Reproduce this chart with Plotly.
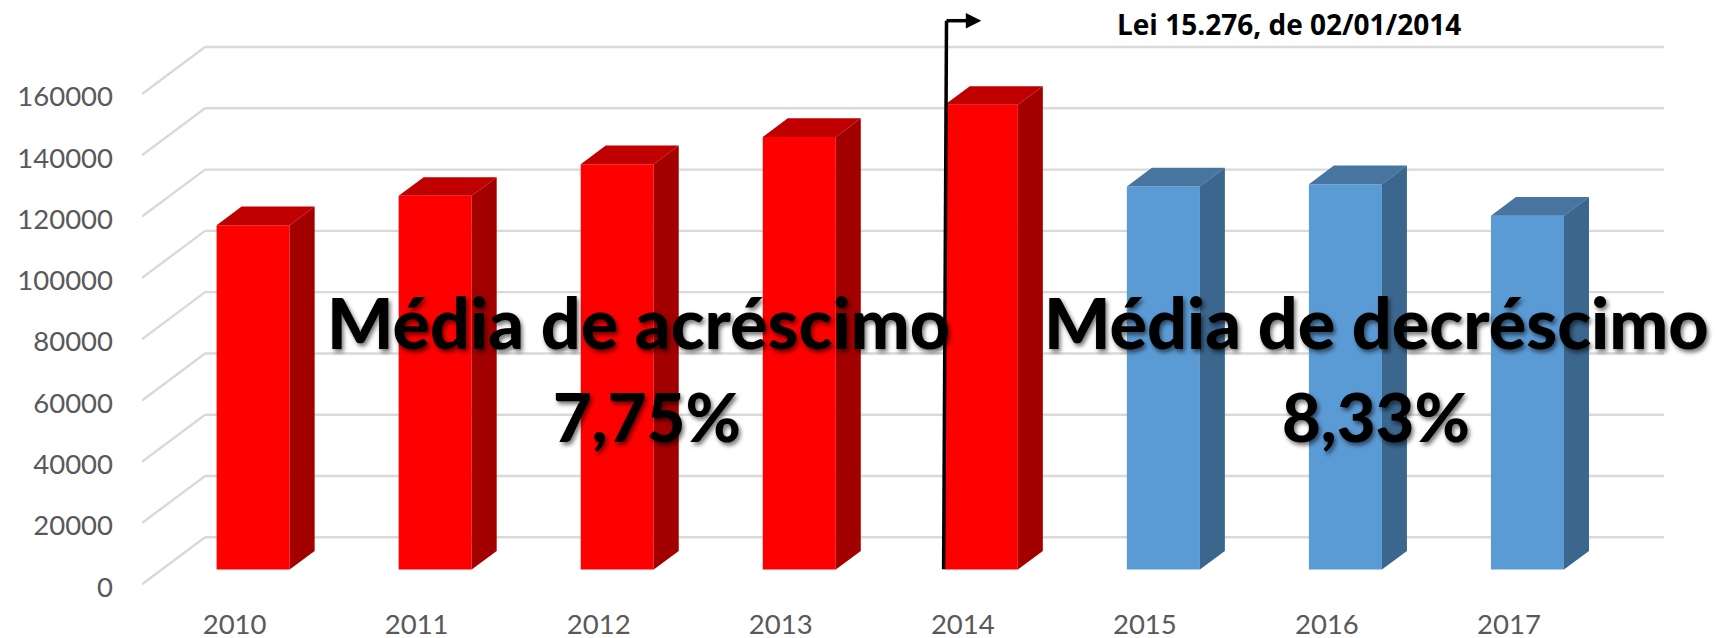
import plotly.graph_objects as go

# ---- data ----
years = ["2010", "2011", "2012", "2013", "2014", "2015", "2016", "2017"]
red_idx = [0, 1, 2, 3, 4]
red_values = [112400, 122000, 132300, 141200, 151700]
blue_idx = [5, 6, 7]
blue_values = [125060, 125800, 115500]
y_ticks = [0, 20000, 40000, 60000, 80000, 100000, 120000, 140000, 160000]

W, H = 1716, 638
PL, PR, PT, PB = 142.4, 1664.0, 0.0, 586.7  # plot rect in pixels
CAT = 182.0                                 # px per category
UNIT = 490.0 / 160000                       # px per value unit
X0 = -(235.0 - PL) / CAT
X1 = X0 + (PR - PL) / CAT
Y1 = (PB - PT) / UNIT


def dx(px):
    return px / CAT


def dy(px):
    return px / UNIT


def X(px):
    return X0 + (px - PL) / CAT


def Y(px):
    return (PB - px) / UNIT


# pseudo-3D depths
GRID_BASE = dy(2.7)
GRID_DX, GRID_DY = dx(63.0), dy(47.0)
BAR_DX, BAR_DY = dx(25.0), dy(18.6)
BAR_BASE = dy(17.4)
BAR_SHIFT, BAR_W = dx(18.5), dx(73.0)

fig = go.Figure()


def add_series(idx, vals, front, top, side, name):
    xc = [i + BAR_SHIFT for i in idx]
    fig.add_trace(go.Bar(x=xc, y=vals, base=BAR_BASE, width=BAR_W,
                         marker=dict(color=front, line=dict(width=0)),
                         name=name, showlegend=False))
    tx, ty, sx, sy = [], [], [], []
    for c, v in zip(xc, vals):
        l, r = c - BAR_W / 2, c + BAR_W / 2
        t = v + BAR_BASE
        tx += [l, r, r + BAR_DX, l + BAR_DX, l, None]
        ty += [t, t, t + BAR_DY, t + BAR_DY, t, None]
        sx += [r, r + BAR_DX, r + BAR_DX, r, r, None]
        sy += [BAR_BASE, BAR_BASE + BAR_DY, t + BAR_DY, t, BAR_BASE, None]
    for px_, py_, col in ((tx, ty, top), (sx, sy, side)):
        fig.add_trace(go.Scatter(x=px_, y=py_, mode="lines", fill="toself", fillcolor=col,
                                 line=dict(width=0, color=col), hoverinfo="skip", showlegend=False))


add_series(red_idx, red_values, "#FF0000", "#C00000", "#A30000", "Acréscimo")
add_series(blue_idx, blue_values, "#5B9BD5", "#4775A0", "#3B668E", "Decréscimo")

# walls: diagonal + back horizontal line for each tick, beneath the bars
GRID = dict(color="#D9D9D9", width=2.4)
for v in y_ticks:
    g = v + GRID_BASE
    fig.add_shape(type="line", layer="below", x0=X0, y0=g, x1=X0 + GRID_DX, y1=g + GRID_DY, line=GRID)
    fig.add_shape(type="line", layer="below", x0=X0 + GRID_DX, y0=g + GRID_DY, x1=X1, y1=g + GRID_DY, line=GRID)

# law marker
ARROW = dict(color="#000000", width=3.5)
fig.add_shape(type="line", x0=X(943.8), y0=Y(569), x1=X(946.7), y1=Y(20.7), line=ARROW)
fig.add_shape(type="line", x0=X(946.7), y0=Y(20.7), x1=X(968), y1=Y(20.7), line=ARROW)
fig.add_shape(type="path", line=dict(width=0), fillcolor="#000000",
              path=f"M {X(966)} {Y(13)} L {X(981.5)} {Y(20.7)} L {X(966)} {Y(28.5)} Z")

SHADOW = "2px 3px 4px rgba(0,0,0,0.55)"
for text, cx, cy, size in (("Média de acréscimo", 639, 322, 70), ("7,75%", 647, 416, 67),
                           ("Média de decréscimo", 1377, 322, 70), ("8,33%", 1376, 416, 67)):
    fig.add_annotation(x=X(cx), y=Y(cy), text=text, showarrow=False,
                       font=dict(family="Lato", size=size, color="#000000", weight=900, shadow=SHADOW),
                       xanchor="center", yanchor="middle")
fig.add_annotation(x=X(1289), y=Y(24), text="Lei 15.276, de 02/01/2014", showarrow=False,
                   font=dict(family="Open Sans", size=28, color="#000000", weight="bold"),
                   xanchor="center", yanchor="middle")

TICKFONT = dict(family="Lato", size=27.5, color="#595959")
fig.update_xaxes(range=[X0, X1], tickmode="array", tickvals=list(range(len(years))), ticktext=years,
                 showgrid=False, zeroline=False, showline=False, ticks="",
                 ticklabelstandoff=18, tickfont=TICKFONT, fixedrange=True)
fig.update_yaxes(range=[0, Y1], tickmode="array", tickvals=y_ticks, ticktext=[str(t) for t in y_ticks],
                 showgrid=False, zeroline=False, showline=False, ticks="",
                 ticklabelstandoff=28, tickfont=TICKFONT, fixedrange=True)
fig.update_layout(width=W, height=H, margin=dict(l=PL, r=W - PR, t=PT, b=H - PB, autoexpand=False),
                  paper_bgcolor="#FFFFFF", plot_bgcolor="#FFFFFF", showlegend=False, barmode="overlay")
fig.write_html("out.html", config={"displayModeBar": False},
               post_script="document.body.style.margin='0';document.body.style.overflow='hidden';")
